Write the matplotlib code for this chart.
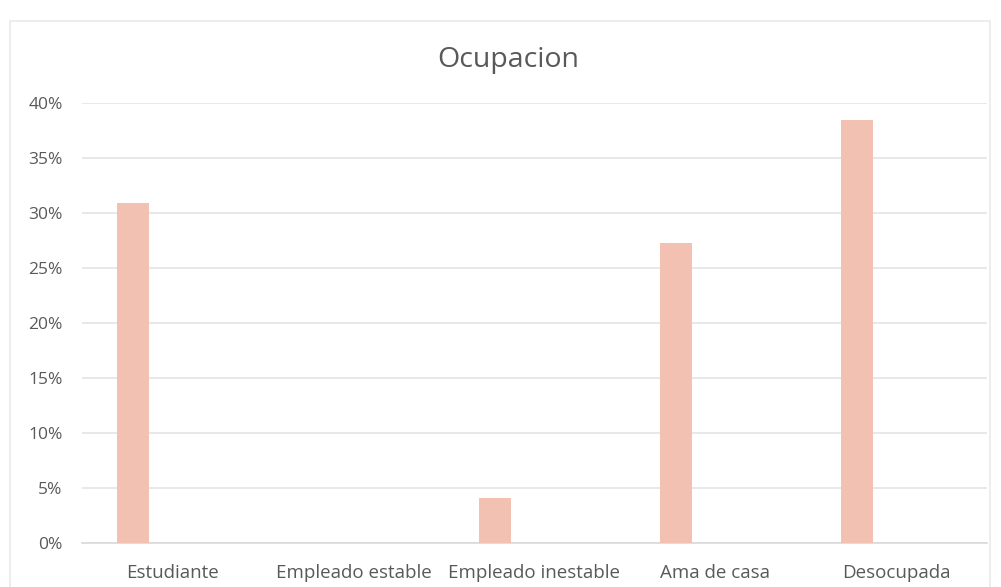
import matplotlib.pyplot as plt
import matplotlib.patches as mpatches
import numpy as np
from matplotlib.ticker import PercentFormatter, MultipleLocator

categorias = ["Estudiante", "Empleado estable", "Empleado inestable", "Ama de casa", "Desocupada"]
porcentajes = [0.309, 0.0, 0.041, 0.273, 0.385]

color_barra = "#F2C1B1"
color_texto = "#595959"
color_grid = "#E4E4E4"

plt.rcParams['font.family'] = ['Open Sans', 'DejaVu Sans']

fig = plt.figure(figsize=(10.01, 5.87), dpi=100)
ax = fig.add_axes([82 / 1001, 44 / 587, 905 / 1001, 440 / 587])

# borde del area del grafico
fig.patches.append(mpatches.Rectangle((10 / 1001, -0.01), 980 / 1001, 572 / 587,
                                      transform=fig.transFigure, fill=False,
                                      edgecolor="#EAEAEA", linewidth=1.2))

x = np.arange(len(categorias))
ax.bar(x - 0.22, porcentajes, width=0.177, color=color_barra, zorder=3)

ax.set_xlim(-0.5, len(categorias) - 0.5)
ax.set_ylim(0, 0.40)
ax.yaxis.set_major_locator(MultipleLocator(0.05))
ax.yaxis.set_major_formatter(PercentFormatter(1.0, decimals=0))
ax.grid(axis="y", color=color_grid, linewidth=1.2, zorder=0)
ax.set_xticks(x)
ax.set_xticklabels(categorias)

for s in ["top", "right", "left"]:
    ax.spines[s].set_visible(False)
ax.spines["bottom"].set_color("#D9D9D9")
ax.spines["bottom"].set_linewidth(1.2)

ax.tick_params(axis="y", length=0, colors=color_texto, labelsize=12.5, pad=14)
ax.tick_params(axis="x", length=0, colors=color_texto, labelsize=13.5, pad=15)

fig.text(508 / 1001, 1 - 60 / 587, "Ocupacion", ha="center", va="center",
         fontsize=20.5, color=color_texto)

fig.savefig("out.png", dpi=100, facecolor="white")
